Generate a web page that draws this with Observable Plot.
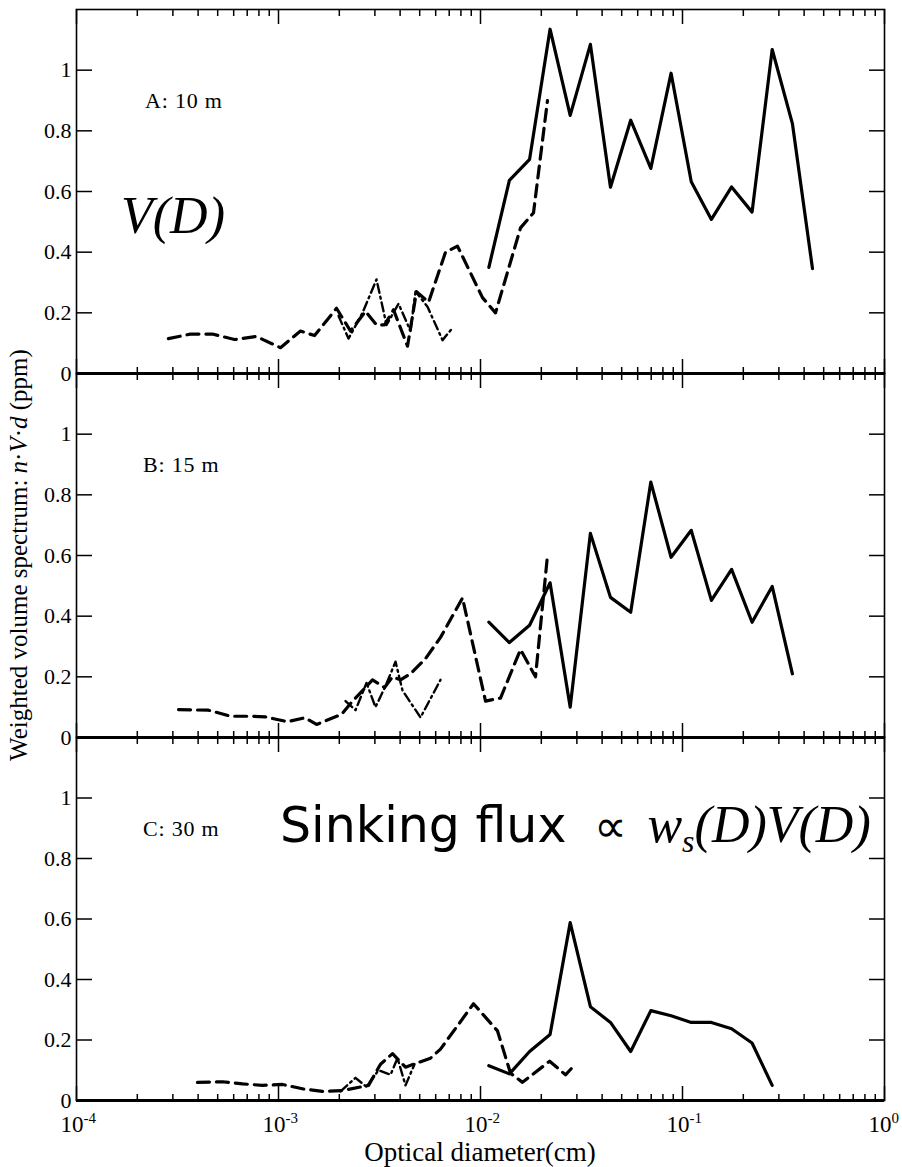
<!DOCTYPE html>
<html><head><meta charset="utf-8">
<script src="https://cdn.jsdelivr.net/npm/d3@7"></script>
<script src="https://cdn.jsdelivr.net/npm/@observablehq/plot@0.6"></script>
<style>
body{margin:0;background:#fff;}
#wrap{position:relative;width:902px;height:1167px;background:#fff;font-family:"Liberation Serif","Times New Roman",serif;color:#000;overflow:hidden;}
#wrap svg.plt{position:absolute;left:0;}
#overlay{position:absolute;left:0;top:0;pointer-events:none;}
</style></head><body><div id="wrap"></div>
<script>
// ---- axis ticks / labels ----
const xMajor = [1e-4, 1e-3, 1e-2, 1e-1, 1];
const xExp = ["-4", "-3", "-2", "-1", "0"];
const yTicks = [0, 0.2, 0.4, 0.6, 0.8, 1];
const yTickLabels = ["0", "0.2", "0.4", "0.6", "0.8", "1"];

// ---- solid series (large-particle camera), shared size bins (cm) ----
const solidX = [0.011, 0.0139, 0.0175, 0.0221, 0.0278, 0.035, 0.044, 0.0554, 0.0697, 0.0878, 0.1105, 0.139, 0.175, 0.221, 0.278, 0.35, 0.44];
const solidA = [0.35, 0.637, 0.706, 1.135, 0.851, 1.085, 0.614, 0.835, 0.676, 0.99, 0.632, 0.508, 0.615, 0.532, 1.068, 0.824, 0.346];
const solidB = [0.38, 0.313, 0.37, 0.51, 0.1, 0.673, 0.462, 0.413, 0.842, 0.594, 0.683, 0.452, 0.554, 0.38, 0.498, 0.21];
const solidC = [0.115, 0.088, 0.162, 0.218, 0.588, 0.31, 0.258, 0.162, 0.297, 0.28, 0.258, 0.258, 0.237, 0.19, 0.05];

// ---- dashed series ----
const dashAX = [2.85e-4, 3.67e-4, 4.71e-4, 6.06e-4, 7.78e-4, 1.023e-3, 1.285e-3, 1.508e-3, 1.937e-3, 2.272e-3, 2.696e-3, 3.056e-3, 3.348e-3, 3.71e-3, 4.018e-3, 4.352e-3, 4.822e-3, 5.53e-3, 6.712e-3, 7.693e-3, 1.023e-2, 1.187e-2, 1.578e-2, 1.83e-2, 2.146e-2];
const dashAY = [0.115, 0.13, 0.13, 0.112, 0.122, 0.085, 0.14, 0.125, 0.215, 0.14, 0.205, 0.16, 0.16, 0.21, 0.15, 0.09, 0.27, 0.235, 0.4, 0.42, 0.25, 0.2, 0.48, 0.53, 0.9];
const dashBX = [3.2e-4, 4.5e-4, 5.8e-4, 7.5e-4, 8.6e-4, 1.108e-3, 1.35e-3, 1.543e-3, 2.05e-3, 2.325e-3, 2.696e-3, 2.92e-3, 3.35e-3, 3.668e-3, 4.02e-3, 4.503e-3, 5.342e-3, 6.34e-3, 8.145e-3, 1.059e-2, 1.256e-2, 1.578e-2, 1.872e-2, 2.146e-2];
const dashBY = [0.092, 0.09, 0.07, 0.07, 0.068, 0.052, 0.065, 0.043, 0.076, 0.12, 0.165, 0.19, 0.165, 0.2, 0.19, 0.21, 0.26, 0.33, 0.46, 0.12, 0.13, 0.29, 0.2, 0.6];
const dashCX = [3.97e-4, 5.28e-4, 6.64e-4, 8.33e-4, 1.047e-3, 1.33e-3, 1.65e-3, 2.07e-3, 2.79e-3, 3.199e-3, 3.668e-3, 4.253e-3, 5.655e-3, 6.34e-3, 9.235e-3, 1.214e-2, 1.408e-2, 1.614e-2, 2.2e-2, 2.635e-2, 2.953e-2];
const dashCY = [0.06, 0.062, 0.055, 0.05, 0.053, 0.038, 0.03, 0.033, 0.05, 0.12, 0.155, 0.11, 0.14, 0.17, 0.32, 0.23, 0.09, 0.06, 0.13, 0.085, 0.12];

// ---- dash-dot series ----
const ddAX = [1.982e-3, 2.221e-3, 2.605e-3, 3.056e-3, 3.426e-3, 3.928e-3, 4.503e-3, 4.767e-3, 5.466e-3, 6.487e-3, 7.268e-3];
const ddAY = [0.19, 0.115, 0.2, 0.31, 0.16, 0.23, 0.14, 0.27, 0.22, 0.11, 0.15];
const ddBX = [2.147e-3, 2.406e-3, 2.727e-3, 3.021e-3, 3.387e-3, 3.796e-3, 4.11e-3, 5.047e-3, 6.34e-3];
const ddBY = [0.12, 0.09, 0.18, 0.1, 0.17, 0.25, 0.155, 0.066, 0.19];
const ddCX = [2.028e-3, 2.406e-3, 2.727e-3, 3.126e-3, 3.586e-3, 3.883e-3, 4.253e-3, 4.713e-3];
const ddCY = [0.03, 0.075, 0.045, 0.1, 0.085, 0.14, 0.05, 0.12];

const xMinor = d3.scaleLog().domain([1e-4, 1]).ticks()
  .filter(t => !xMajor.some(m => Math.abs(t - m) / m < 1e-9));

const pts = (xs, ys) => xs.map((x, i) => ({x, y: ys[i]}));

function makePanel(cfg) {
  const marks = [
    Plot.frame({stroke: "#000", strokeWidth: 1.6}),
    Plot.ruleY([0], {stroke: "#000", strokeWidth: 3}),
    Plot.axisY(yTicks, {anchor: "right", frameAnchor: "left", tickSize: 15, tickFormat: () => "", strokeWidth: 1.5, label: null}),
    Plot.axisY(yTicks, {anchor: "left", frameAnchor: "right", tickSize: 15, tickFormat: () => "", strokeWidth: 1.5, label: null}),
    Plot.axisY(yTicks, {anchor: "left", tickSize: 0, tickPadding: 5, tickFormat: d => yTickLabels[yTicks.indexOf(d)], fontSize: 22, label: null}),
    Plot.axisX(xMajor, {anchor: "top", frameAnchor: "bottom", tickSize: 15, tickFormat: () => "", strokeWidth: 1.5, label: null}),
    Plot.axisX(xMinor, {anchor: "top", frameAnchor: "bottom", tickSize: 7, tickFormat: () => "", strokeWidth: 1.5, label: null}),
    Plot.axisX(xMajor, {anchor: "bottom", frameAnchor: "top", tickSize: 15, tickFormat: () => "", strokeWidth: 1.5, label: null}),
    Plot.axisX(xMinor, {anchor: "bottom", frameAnchor: "top", tickSize: 7, tickFormat: () => "", strokeWidth: 1.5, label: null}),
    Plot.line(cfg.dashed, {x: "x", y: "y", stroke: "#000", strokeWidth: 3.2, strokeDasharray: "12,7"}),
    Plot.line(cfg.dashdot, {x: "x", y: "y", stroke: "#000", strokeWidth: 2.4, strokeDasharray: "9,4,2,4"}),
    Plot.line(cfg.solid, {x: "x", y: "y", stroke: "#000", strokeWidth: 3.2})
  ];
  if (cfg.xLabels) {
    marks.push(
      Plot.text(xMajor, {x: d => d, frameAnchor: "bottom", dy: 31, dx: 7, textAnchor: "end", text: () => "10", fontSize: 23}),
      Plot.text(xMajor, {x: d => d, frameAnchor: "bottom", dy: 22, dx: 7, textAnchor: "start", text: (d, i) => xExp[i], fontSize: 15})
    );
  }
  const svg = Plot.plot({
    width: 902, height: cfg.height,
    marginLeft: 76, marginRight: 18, marginTop: cfg.mt, marginBottom: cfg.mb,
    style: {background: "transparent", overflow: "visible", fontFamily: "'Liberation Serif', 'Times New Roman', serif", fontSize: "22px", color: "#000"},
    x: {type: "log", domain: [1e-4, 1], axis: null, label: null},
    y: {domain: [0, 1.2], axis: null, label: null},
    marks
  });
  svg.classList.add("plt");
  svg.style.top = cfg.top + "px";
  return svg;
}

const wrap = document.getElementById("wrap");
wrap.appendChild(makePanel({top: 0, height: 385, mt: 9, mb: 12,
  solid: pts(solidX.slice(0, solidA.length), solidA), dashed: pts(dashAX, dashAY), dashdot: pts(ddAX, ddAY)}));
wrap.appendChild(makePanel({top: 361, height: 388, mt: 12, mb: 12,
  solid: pts(solidX.slice(0, solidB.length), solidB), dashed: pts(dashBX, dashBY), dashdot: pts(ddBX, ddBY)}));
wrap.appendChild(makePanel({top: 725, height: 442, mt: 12, mb: 67, xLabels: true,
  solid: pts(solidX.slice(0, solidC.length), solidC), dashed: pts(dashCX, dashCY), dashdot: pts(ddCX, ddCY)}));

// ---- text overlay ----
const ov = d3.select(wrap).append("svg").attr("id", "overlay").attr("width", 902).attr("height", 1167)
  .style("font-family", "'Liberation Serif','Times New Roman',serif").attr("fill", "#000");

[["A: 10 m", 145, 108], ["B: 15 m", 143, 472], ["C: 30 m", 143, 836]].forEach(([t, x, y]) => {
  ov.append("text").attr("x", x).attr("y", y).attr("font-size", 22).attr("letter-spacing", 0.8).text(t);
});

ov.append("text").attr("x", 121).attr("y", 233).attr("font-size", 52).attr("font-style", "italic").text("V(D)");

const sk = ov.append("text").attr("x", 280).attr("y", 842);
sk.append("tspan").attr("font-family", "'DejaVu Sans', sans-serif").attr("font-size", 49).text("Sinking flux");
sk.append("tspan").attr("font-size", 46).attr("dx", 28).text("∝");
sk.append("tspan").attr("font-size", 52).attr("font-style", "italic").attr("dx", 20).text("w");
sk.append("tspan").attr("font-size", 32).attr("font-style", "italic").attr("dy", 10).text("s");
sk.append("tspan").attr("font-size", 52).attr("font-style", "italic").attr("dy", -10).text("(D)V(D)");

ov.append("text").attr("x", 480).attr("y", 1161).attr("text-anchor", "middle").attr("font-size", 27)
  .text("Optical diameter(cm)");

const yt = ov.append("text").attr("transform", "translate(27,555) rotate(-90)").attr("text-anchor", "middle").attr("font-size", 25);
yt.append("tspan").text("Weighted volume spectrum: ");
yt.append("tspan").attr("font-style", "italic").text("n");
yt.append("tspan").text("·");
yt.append("tspan").attr("font-style", "italic").text("V");
yt.append("tspan").text("·");
yt.append("tspan").attr("font-style", "italic").text("d");
yt.append("tspan").text(" (ppm)");
</script>
</body></html>
